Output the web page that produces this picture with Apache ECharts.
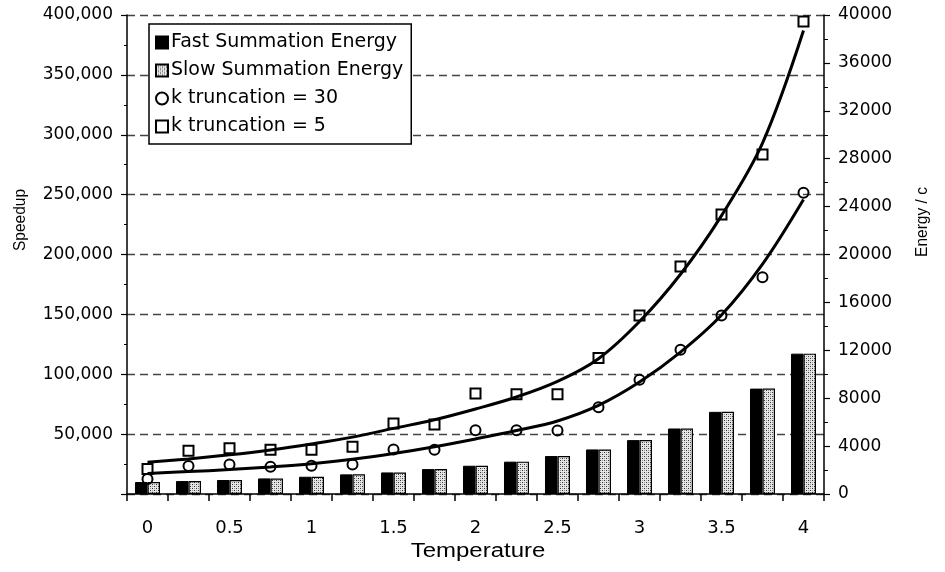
<!DOCTYPE html>
<html>
<head>
<meta charset="utf-8">
<script src="https://cdn.jsdelivr.net/npm/echarts@6/dist/echarts.min.js"></script>
<style>
  html, body { margin: 0; padding: 0; background: #fff; }
  #chart { width: 945px; height: 572px; }
</style>
</head>
<body>
<div id="chart"></div>
<script>
// Temperature steps along the x axis
const temperatures = ['0','0.25','0.5','0.75','1','1.25','1.5','1.75','2','2.25','2.5','2.75','3','3.25','3.5','3.75','4'];

// Energy / c (right axis)
const fastEnergy = [1000, 1080, 1170, 1300, 1440, 1640, 1800, 2080, 2360, 2700, 3170, 3720, 4500, 5470, 6860, 8800, 11720];
const slowEnergy = [1000, 1080, 1170, 1300, 1440, 1640, 1800, 2080, 2360, 2700, 3170, 3720, 4500, 5470, 6860, 8800, 11720];

// Measured speedup (left axis)
const speedupK30 = [12500, 23300, 24700, 22800, 23600, 24700, 37200, 37000, 53300, 53300, 53000, 72500, 95500, 120500, 149000, 181000, 251500];
const speedupK5  = [20800, 36100, 38200, 37000, 36900, 39400, 58900, 58000, 83900, 83300, 83300, 113500, 149000, 190000, 233500, 283500, 394500];

// Fitted trend curves through the speedup points
const trendK30 = [17200, 18700, 20400, 22600, 25300, 29000, 33800, 39500, 46000, 53000, 61000, 74000, 93500, 118500, 149500, 192000, 246000];
const trendK5  = [26500, 29300, 32700, 36800, 41800, 47500, 54800, 62000, 71000, 81000, 94000, 113000, 144000, 183500, 232500, 293000, 387000];

// Axis ranges
const speedupAxis = { min: 0, max: 400000, step: 50000 };
const energyAxis  = { min: 0, max: 40000, step: 4000 };

// Stippled fill for the slow-summation bars
function stipple() {
  const c = document.createElement('canvas');
  c.width = 4; c.height = 4;
  const g = c.getContext('2d');
  g.fillStyle = '#e6e6e6';
  g.fillRect(0, 0, 4, 4);
  g.fillStyle = '#333';
  g.fillRect(0, 0, 1, 1);
  g.fillRect(2, 2, 1, 1);
  g.fillStyle = '#9a9a9a';
  g.fillRect(2, 0, 1, 1);
  g.fillRect(0, 2, 1, 1);
  return c;
}
const dotFill = { image: stipple(), repeat: 'repeat' };

const FONT = 'DejaVu Sans';
const TITLE_FONT = 'Liberation Sans';
const chart = echarts.init(document.getElementById('chart'), null, { renderer: 'canvas' });

chart.setOption({
  animation: false,
  backgroundColor: '#fff',
  grid: { left: 127, right: 121, top: 15, bottom: 78, containLabel: false },
  legend: {
    orient: 'vertical',
    left: 149, top: 24,
    backgroundColor: '#fff',
    borderColor: '#000', borderWidth: 1.5,
    padding: [9, 8, 8, 6],
    itemGap: 9,
    itemWidth: 12, itemHeight: 12,
    textStyle: { fontFamily: FONT, fontSize: 19, color: '#000', padding: [0, 0, 0, -2] },
    data: [
      { name: 'Fast Summation Energy', icon: 'rect' },
      { name: 'Slow Summation Energy', icon: 'rect' },
      { name: 'k truncation = 30', icon: 'circle', itemStyle: { color: '#fff', borderColor: '#000', borderWidth: 2 } },
      { name: 'k truncation = 5', icon: 'rect', itemStyle: { color: '#fff', borderColor: '#000', borderWidth: 2 } }
    ]
  },
  xAxis: {
    type: 'category',
    data: temperatures,
    boundaryGap: true,
    axisLine: { lineStyle: { color: '#000', width: 1.5 } },
    axisTick: { show: true, interval: 0, length: 7, lineStyle: { color: '#000', width: 1.5 } },
    axisLabel: { interval: 1, margin: 25, fontFamily: FONT, fontSize: 18, color: '#000' },
    splitLine: { show: false }
  },
  yAxis: [
    {
      type: 'value',
      position: 'left',
      min: speedupAxis.min, max: speedupAxis.max, interval: speedupAxis.step,
      axisLine: { show: true, lineStyle: { color: '#000', width: 1.5 } },
      axisTick: { show: true, length: 6, lineStyle: { color: '#000', width: 1.2 } },
      minorTick: { show: true, splitNumber: 2, length: 3, lineStyle: { color: '#000', width: 1 } },
      axisLabel: {
        margin: 14, fontFamily: FONT, fontSize: 17, color: '#000',
        formatter: v => v === 0 ? '' : v.toLocaleString('en-US')
      },
      splitLine: { show: true, lineStyle: { color: '#444', width: 1.4, type: [8, 5] } }
    },
    {
      type: 'value',
      position: 'right',
      min: energyAxis.min, max: energyAxis.max, interval: energyAxis.step,
      axisLine: { show: true, lineStyle: { color: '#000', width: 1.5 } },
      axisTick: { show: true, length: 6, lineStyle: { color: '#000', width: 1.2 } },
      minorTick: { show: true, splitNumber: 2, length: 4, lineStyle: { color: '#000', width: 1 } },
      axisLabel: { margin: 14, fontFamily: FONT, fontSize: 17, color: '#000', formatter: v => String(v) },
      splitLine: { show: false }
    }
  ],
  graphic: [
    { type: 'text', x: 20, y: 220, rotation: Math.PI / 2, scaleX: 1, scaleY: 1.1,
      style: { text: 'Speedup', fontFamily: TITLE_FONT, fontSize: 15.5, fill: '#000', align: 'center', verticalAlign: 'middle' } },
    { type: 'text', x: 922, y: 222, rotation: Math.PI / 2, scaleX: 1, scaleY: 1.1,
      style: { text: 'Energy / c', fontFamily: TITLE_FONT, fontSize: 15.5, fill: '#000', align: 'center', verticalAlign: 'middle' } },
    { type: 'text', x: 478, y: 551, scaleX: 1.2, scaleY: 1.05,
      style: { text: 'Temperature', fontFamily: TITLE_FONT, fontSize: 20, fill: '#000', align: 'center', verticalAlign: 'middle' } }
  ],
  series: [
    {
      name: 'Fast Summation Energy', type: 'bar', yAxisIndex: 1,
      data: fastEnergy,
      barGap: '0%', barCategoryGap: '39%',
      itemStyle: { color: '#000', borderColor: '#000', borderWidth: 1 },
      z: 2
    },
    {
      name: 'Slow Summation Energy', type: 'bar', yAxisIndex: 1,
      data: slowEnergy,
      itemStyle: { color: dotFill, borderColor: '#000', borderWidth: 1.2 },
      z: 2
    },
    {
      name: 'trend k30', type: 'line', yAxisIndex: 0,
      data: trendK30, smooth: 0.35, symbol: 'none', silent: true,
      lineStyle: { color: '#000', width: 3 },
      z: 3
    },
    {
      name: 'trend k5', type: 'line', yAxisIndex: 0,
      data: trendK5, smooth: 0.35, symbol: 'none', silent: true,
      lineStyle: { color: '#000', width: 3 },
      z: 3
    },
    {
      name: 'k truncation = 30', type: 'scatter', yAxisIndex: 0,
      data: speedupK30, symbol: 'circle', symbolSize: 10,
      itemStyle: { color: 'rgba(255,255,255,0)', borderColor: '#000', borderWidth: 2, opacity: 1 },
      z: 4
    },
    {
      name: 'k truncation = 5', type: 'scatter', yAxisIndex: 0,
      data: speedupK5, symbol: 'rect', symbolSize: 10,
      itemStyle: { color: 'rgba(255,255,255,0)', borderColor: '#000', borderWidth: 2, opacity: 1 },
      z: 4
    }
  ]
});
</script>
</body>
</html>
